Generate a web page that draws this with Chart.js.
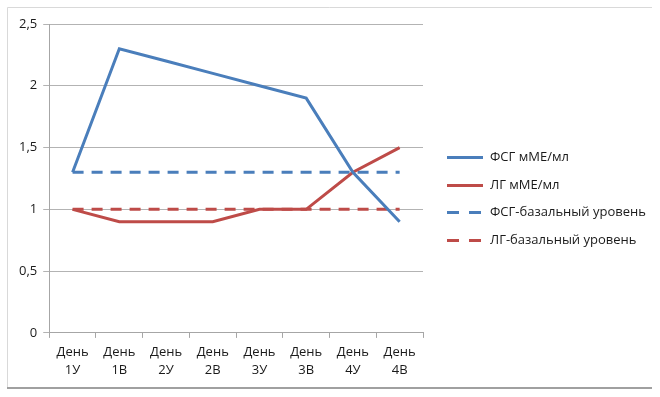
<!DOCTYPE html>
<html><head><meta charset="utf-8">
<script src="https://cdn.jsdelivr.net/npm/chart.js@4"></script>
<style>html,body{margin:0;padding:0;background:#fff}#w{width:660px;height:397px}</style>
</head><body><div id="w"><canvas id="c" width="660" height="397"></canvas></div>
<script>
const categories = [["День","1У"],["День","1В"],["День","2У"],["День","2В"],["День","3У"],["День","3В"],["День","4У"],["День","4В"]];
const fsg = [1.3, 2.3, 2.2, 2.1, 2.0, 1.9, 1.3, 0.9];
const lg = [1.0, 0.9, 0.9, 0.9, 1.0, 1.0, 1.3, 1.5];
const fsgBase = [1.3, 1.3, 1.3, 1.3, 1.3, 1.3, 1.3, 1.3];
const lgBase = [1.0, 1.0, 1.0, 1.0, 1.0, 1.0, 1.0, 1.0];
const seriesNames = ["ФСГ мМЕ/мл", "ЛГ мМЕ/мл", "ФСГ-базальный уровень", "ЛГ-базальный уровень"];
const yTicks = [0, 0.5, 1, 1.5, 2, 2.5];

const BLUE = "#4a7ebb", RED = "#be4b48";
const FONT = "'Open Sans', 'Noto Sans', sans-serif";

const frame = {
  id: "frame",
  beforeDraw(chart) {
    const ctx = chart.ctx;
    ctx.save();
    ctx.fillStyle = "#fff";
    ctx.fillRect(0, 0, chart.width, chart.height);
    ctx.strokeStyle = "#d9d9d9";
    ctx.lineWidth = 1;
    ctx.beginPath();
    ctx.moveTo(7.5, 388); ctx.lineTo(7.5, 7.5); ctx.lineTo(652, 7.5);
    ctx.stroke();
    ctx.strokeStyle = "#a0a0a0";
    ctx.lineWidth = 2;
    ctx.beginPath();
    ctx.moveTo(7, 388); ctx.lineTo(652, 388);
    ctx.stroke();
    ctx.restore();
  }
};

const sideLegend = {
  id: "sideLegend",
  afterDraw(chart) {
    const ctx = chart.ctx;
    const x0 = chart.chartArea.right + 24;
    const yMid = (chart.chartArea.top + chart.chartArea.bottom) / 2 + 20;
    const step = 27.7;
    const n = chart.data.datasets.length;
    ctx.save();
    chart.data.datasets.forEach((ds, i) => {
      const y = Math.round(yMid + (i - (n - 1) / 2) * step) + 0.5;
      ctx.strokeStyle = ds.borderColor;
      ctx.lineWidth = 3;
      ctx.setLineDash(ds.borderDash && ds.borderDash.length ? [12, 10] : []);
      ctx.beginPath();
      ctx.moveTo(x0, y); ctx.lineTo(x0 + 36, y);
      ctx.stroke();
      ctx.setLineDash([]);
      ctx.fillStyle = "#1a1a1a";
      ctx.font = "13px " + FONT;
      ctx.textBaseline = "middle";
      ctx.textAlign = "left";
      ctx.fillText(ds.label, x0 + 43, y);
    });
    ctx.restore();
  }
};

const mk = (label, data, color, dash) => ({
  label, data, borderColor: color, backgroundColor: color,
  borderWidth: 3, borderDash: dash, pointRadius: 0, pointHoverRadius: 0,
  tension: 0, fill: false, borderCapStyle: "butt"
});

new Chart(document.getElementById("c"), {
  type: "line",
  data: {
    labels: categories,
    datasets: [
      mk(seriesNames[0], fsg, BLUE, []),
      mk(seriesNames[1], lg, RED, []),
      mk(seriesNames[2], fsgBase, BLUE, [11, 8]),
      mk(seriesNames[3], lgBase, RED, [11, 8])
    ]
  },
  options: {
    responsive: false,
    animation: false,
    devicePixelRatio: 1,
    layout: { padding: { left: 13, top: 24, right: 237, bottom: 12 } },
    plugins: {
      tooltip: { enabled: false },
      legend: { display: false }
    },
    scales: {
      x: {
        offset: true,
        grid: { display: true, drawOnChartArea: false, offset: true, tickLength: 5, color: "#a6a6a6" },
        border: { color: "#a6a6a6" },
        ticks: { color: "#1a1a1a", font: { family: FONT, size: 13, lineHeight: 1.35 }, maxRotation: 0, padding: 6 }
      },
      y: {
        min: 0, max: 2.5,
        afterBuildTicks(axis) { axis.ticks = yTicks.map(v => ({ value: v })); },
        grid: { color: "#b3b3b3", tickLength: 6 },
        border: { color: "#a6a6a6" },
        ticks: {
          color: "#1a1a1a", font: { family: FONT, size: 13 }, padding: 6,
          callback: v => String(v).replace(".", ",")
        }
      }
    }
  },
  plugins: [frame, sideLegend]
});
</script>
</body></html>
